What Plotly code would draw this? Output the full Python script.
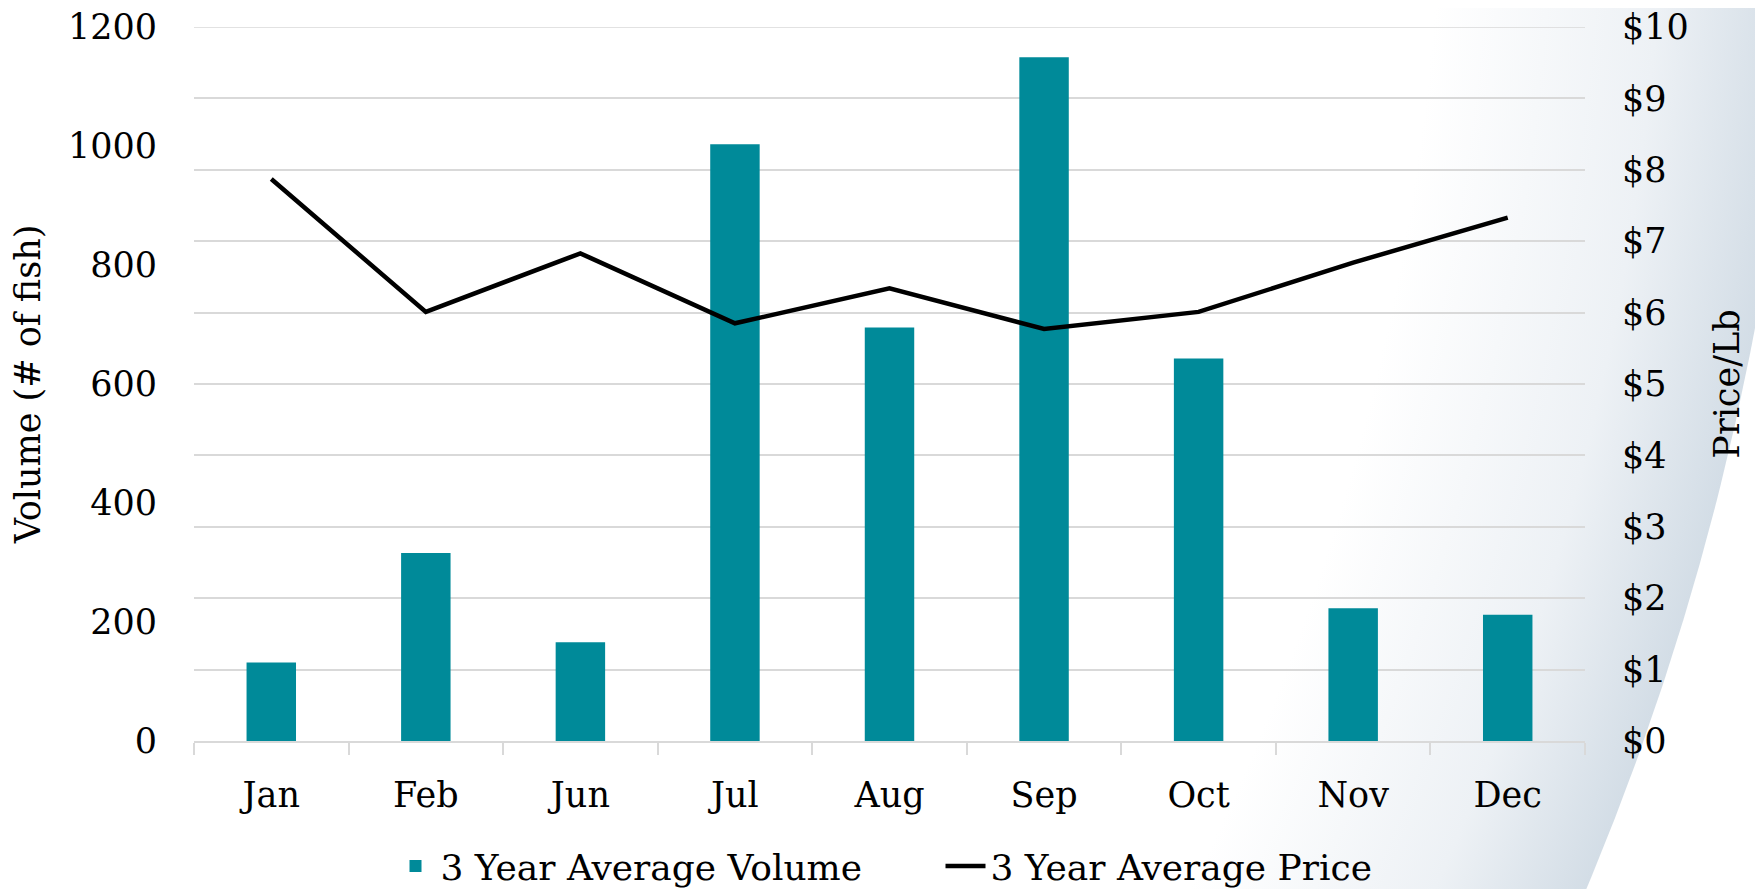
import base64
import plotly.graph_objects as go

months = ["Jan", "Feb", "Jun", "Jul", "Aug", "Sep", "Oct", "Nov", "Dec"]
avg_volume = [132, 316, 166, 1003, 695, 1149, 643, 223, 212]
avg_price = [7.87, 6.01, 6.83, 5.85, 6.34, 5.77, 6.01, 6.70, 7.33]
volume_ticks = [0, 200, 400, 600, 800, 1000, 1200]
price_ticks = list(range(0, 11))
price_labels = ["$" + str(v) for v in price_ticks]

W, H = 1763, 889
OFF = 8  # default page body margin
# desired plot area in window pixels
PX0, PX1, PY0, PY1 = 194, 1585, 27, 741
pw, ph = PX1 - PX0, PY1 - PY0
L = PX0 - OFF
T = PY0 - OFF
R = OFF + W - PX1
B = OFF + H - PY1

FONT = "DejaVu Serif"
GRID = "#d9d9d9"

svg = f'''<svg xmlns="http://www.w3.org/2000/svg" width="{W}" height="{H}" viewBox="0 0 {W} {H}">
<defs><radialGradient id="g" gradientUnits="userSpaceOnUse" cx="-972" cy="-186" r="2775">
<stop offset="0.87" stop-color="#ffffff"/>
<stop offset="0.95" stop-color="#edf1f5"/>
<stop offset="1" stop-color="#d3dde6"/>
</radialGradient></defs>
<circle cx="-972" cy="-186" r="2775" fill="url(#g)"/>
</svg>'''
src = "data:image/svg+xml;base64," + base64.b64encode(svg.encode()).decode()

fig = go.Figure()
fig.add_trace(go.Bar(
    x=months, y=avg_volume, name="3 Year Average Volume",
    marker=dict(color="#008A99", line=dict(width=0)), yaxis="y",
))
fig.add_trace(go.Scatter(
    x=months, y=avg_price, name="3 Year Average Price", mode="lines",
    line=dict(color="#000000", width=4.5), yaxis="y2",
))

fig.update_layout(
    width=W, height=H,
    margin=dict(l=L, r=R, t=T, b=B, autoexpand=False),
    paper_bgcolor="#ffffff", plot_bgcolor="rgba(0,0,0,0)",
    font=dict(family=FONT, size=35, color="#000000"),
    bargap=0.68,
    showlegend=True,
    legend=dict(orientation="h", x=0.5 + 51 / pw, xanchor="center", y=(PY1 - 866) / ph,
                yanchor="middle", font=dict(family=FONT, size=36), bgcolor="rgba(0,0,0,0)",
                itemwidth=40, entrywidth=495),
    xaxis=dict(
        type="category", showgrid=False, showline=True, linecolor=GRID, linewidth=1.5,
        ticks="outside", tickson="boundaries", ticklen=12, tickcolor=GRID, tickwidth=1.5,
        ticklabelstandoff=22,
        tickfont=dict(family=FONT, size=35), automargin=False,
    ),
    yaxis=dict(
        range=[0, 1200], tickvals=volume_ticks, showgrid=False, zeroline=False,
        showline=False, ticks="", ticklabelstandoff=36, ticklabeloverflow="allow",
        tickfont=dict(family=FONT, size=35),
        title=dict(text="Volume (# of fish)", font=dict(family=FONT, size=35), standoff=35),
        automargin=False,
    ),
    yaxis2=dict(
        range=[0, 10], tickvals=price_ticks, ticktext=price_labels, overlaying="y",
        side="right", showgrid=True, gridcolor=GRID, gridwidth=1.5, zeroline=False,
        showline=False, ticks="", ticklabelstandoff=36, ticklabeloverflow="allow",
        tickfont=dict(family=FONT, size=35),
        title=dict(text="Price/Lb", font=dict(family=FONT, size=35), standoff=26),
        automargin=False,
    ),
    shapes=[dict(type="line", xref="paper", yref="y2", x0=0, x1=1,
                 y0=price_ticks[-1], y1=price_ticks[-1],
                 line=dict(color=GRID, width=1.5), layer="below")],
    images=[dict(source=src, xref="paper", yref="paper", x=-PX0 / pw, y=1 + PY0 / ph,
                 sizex=W / pw, sizey=H / ph, xanchor="left", yanchor="top",
                 sizing="stretch", layer="below")],
)

fig.write_html("out.html")
